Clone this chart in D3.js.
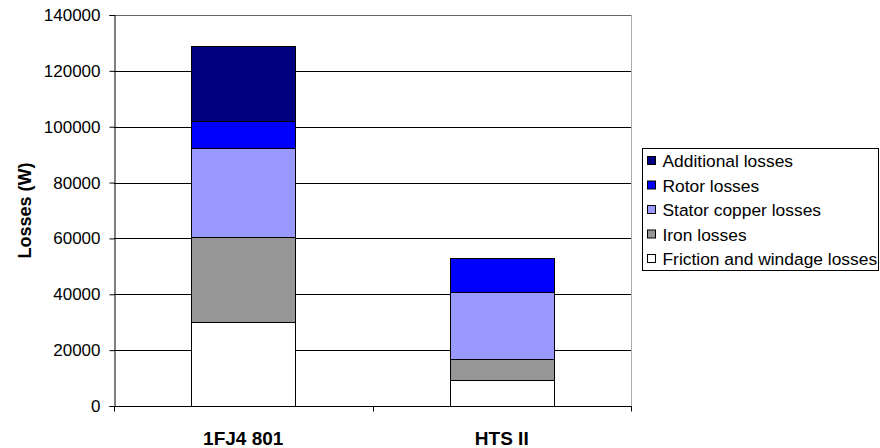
<!DOCTYPE html>
<html>
<head>
<meta charset="utf-8">
<script src="https://cdn.jsdelivr.net/npm/d3@7"></script>
<style>
  html, body { margin: 0; padding: 0; background: #fff; }
  svg { display: block; font-family: Arial, "Liberation Sans", sans-serif; }
</style>
</head>
<body>
<svg id="chart" width="880" height="448"></svg>
<script>
// Machine variants on the category axis
const categories = ["1FJ4 801", "HTS II"];

// Loss components in watts, stacked bottom to top
const frictionLosses   = [30000, 9400];
const ironLosses       = [30500, 7400];
const statorLosses     = [32000, 24000];
const rotorLosses      = [9700, 12300];
const additionalLosses = [26800, 0];

const seriesNames = [
  "Friction and windage losses",
  "Iron losses",
  "Stator copper losses",
  "Rotor losses",
  "Additional losses"
];
const seriesColors = ["#ffffff", "#969696", "#9999ff", "#0000ff", "#000080"];

const yTicks = [0, 20000, 40000, 60000, 80000, 100000, 120000, 140000];

const table = categories.map((c, i) => ({
  category: c,
  [seriesNames[0]]: frictionLosses[i],
  [seriesNames[1]]: ironLosses[i],
  [seriesNames[2]]: statorLosses[i],
  [seriesNames[3]]: rotorLosses[i],
  [seriesNames[4]]: additionalLosses[i]
}));

const svg = d3.select("#chart");
const plot = { left: 114, right: 631, top: 15, bottom: 406 };

const x = d3.scaleBand().domain(categories).range([plot.left, plot.right]).padding(0);
const y = d3.scaleLinear().domain([0, 140000]).range([plot.bottom, plot.top]);
const color = d3.scaleOrdinal().domain(seriesNames).range(seriesColors);

// Horizontal gridlines
svg.append("g")
  .selectAll("line")
  .data(yTicks.filter(t => t > 0 && t < 140000))
  .join("line")
  .attr("x1", plot.left).attr("x2", plot.right)
  .attr("y1", d => Math.round(y(d)) + 0.5).attr("y2", d => Math.round(y(d)) + 0.5)
  .attr("stroke", "#000").attr("stroke-width", 1);

// Plot area frame (top and right)
svg.append("line")
  .attr("x1", plot.left).attr("x2", plot.right + 0.5)
  .attr("y1", plot.top + 0.5).attr("y2", plot.top + 0.5)
  .attr("stroke", "#666");
svg.append("line")
  .attr("x1", plot.right + 0.5).attr("x2", plot.right + 0.5)
  .attr("y1", plot.top).attr("y2", plot.bottom)
  .attr("stroke", "#aaa");

// Stacked bars
const stack = d3.stack().keys(seriesNames);
const layers = stack(table);
const barW = x.bandwidth() * 0.402;
const barOff = (x.bandwidth() - barW) / 2;

svg.append("g")
  .selectAll("g")
  .data(layers)
  .join("g")
  .attr("fill", d => color(d.key))
  .selectAll("rect")
  .data(d => d.filter(s => s[1] - s[0] > 0))
  .join("rect")
  .attr("x", d => Math.round(x(d.data.category) + barOff) + 0.5)
  .attr("width", Math.round(barW))
  .attr("y", d => Math.round(y(d[1])) + 0.5)
  .attr("height", d => Math.round(y(d[0])) - Math.round(y(d[1])))
  .attr("stroke", "#000")
  .attr("stroke-width", 1);

// Y axis
const yAxis = d3.axisLeft(y).tickValues(yTicks).tickSize(5).tickPadding(9).tickFormat(d3.format("d"));
const gy = svg.append("g")
  .attr("transform", `translate(${plot.left + 0.5},0)`)
  .call(yAxis);
gy.select(".domain").attr("stroke", "#000");
gy.selectAll(".tick line").attr("stroke", "#000");
gy.selectAll(".tick text").attr("font-size", 17).attr("fill", "#000")
  .attr("font-family", "Arial, 'Liberation Sans', sans-serif");

// X axis with ticks at category boundaries
const gx = svg.append("g")
  .attr("transform", `translate(0,${plot.bottom + 0.5})`);
gx.append("line")
  .attr("x1", plot.left).attr("x2", plot.right + 1)
  .attr("stroke", "#000");
const boundaries = categories.map(c => x(c)).concat([x(categories[categories.length - 1]) + x.bandwidth()]);
gx.selectAll("line.tick")
  .data(boundaries)
  .join("line")
  .attr("class", "tick")
  .attr("x1", d => Math.round(d) + 0.5).attr("x2", d => Math.round(d) + 0.5)
  .attr("y1", 0).attr("y2", 5)
  .attr("stroke", "#000");
gx.selectAll("text")
  .data(categories)
  .join("text")
  .attr("x", d => x(d) + x.bandwidth() / 2)
  .attr("y", 38.5)
  .attr("text-anchor", "middle")
  .attr("font-size", 19)
  .attr("font-weight", "bold")
  .text(d => d);

// Y axis title
svg.append("text")
  .attr("transform", `translate(31,${(plot.top + plot.bottom) / 2}) rotate(-90)`)
  .attr("text-anchor", "middle")
  .attr("font-size", 18)
  .attr("font-weight", "bold")
  .text("Losses (W)");

// Legend, top entry is the uppermost stack layer
const legend = svg.append("g");
legend.append("rect")
  .attr("x", 642.5).attr("y", 148.5)
  .attr("width", 236).attr("height", 122)
  .attr("fill", "#fff").attr("stroke", "#000");
const legendItems = seriesNames.slice().reverse();
const li = legend.selectAll("g.item")
  .data(legendItems)
  .join("g")
  .attr("class", "item")
  .attr("transform", (d, i) => `translate(647,${161 + i * 24.5})`);
li.append("rect")
  .attr("x", 0.5).attr("y", -4.5)
  .attr("width", 8).attr("height", 8)
  .attr("fill", d => color(d))
  .attr("stroke", "#000");
li.append("text")
  .attr("x", 15.5).attr("y", 6)
  .attr("font-size", 17.4)
  .text(d => d);
</script>
</body>
</html>
